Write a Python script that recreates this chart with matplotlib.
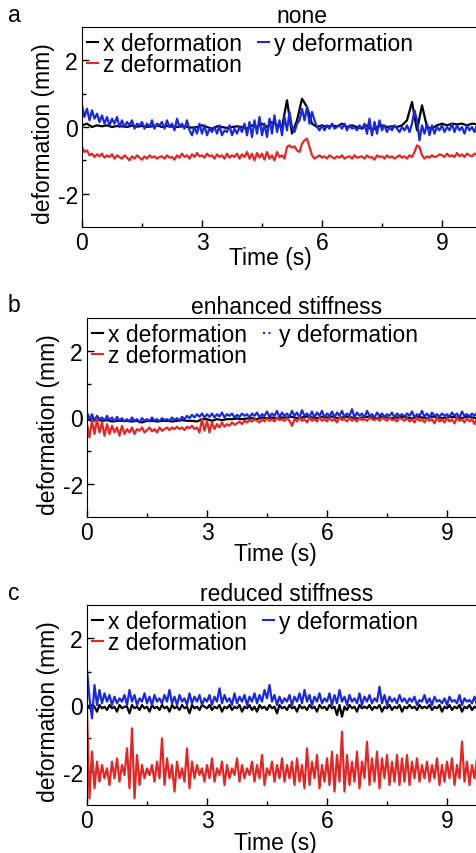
import numpy as np
import matplotlib
matplotlib.use("Agg")
import matplotlib.pyplot as plt
from matplotlib.lines import Line2D

plt.rcParams["font.family"] = ["Liberation Sans", "DejaVu Sans"]
plt.rcParams["axes.unicode_minus"] = False

# every trace covers 0-10 s, evenly sampled

# panel a - none
a_x = [0.05, 0.1, 0.0, 0.05, 0.02, 0.05, 0.0, 0.03,
       0.02, 0.0, 0.04, 0.01, 0.03, 0.0, 0.02, 0.05,
       0.0, 0.03, 0.01, 0.0, 0.02, 0.0, -0.02, 0.0,
       0.05, 0.0, -0.05, 0.02, 0.0, -0.03, 0.0, 0.02,
       0.0, -0.05, 0.05, 0.0, 0.1, 0.0, 0.15, 0.05,
       0.0, 0.8, -0.2, 0.2, 0.85, 0.6, 0.1, 0.0,
       0.05, 0.0, 0.05, 0.02, 0.1, 0.0, 0.05, 0.0,
       -0.05, 0.05, -0.1, 0.0, 0.05, 0.0, 0.02, 0.0,
       0.05, 0.2, 0.75, -0.1, 0.65, 0.0, -0.05, 0.05,
       0.1, 0.05, 0.1, 0.08, 0.1, 0.05, 0.1, 0.08]
a_y = [0.65, 0.3, 0.55, 0.2, 0.5, 0.25, 0.4, 0.15, 0.35, 0.1, 0.3, 0.05, 0.25, 0.1, 0.3, 0.0,
       0.2, 0.0, 0.15, 0.05, 0.2, -0.05, 0.1, 0.05, 0.15, -0.05, 0.1, 0.0, 0.2, -0.05, 0.1, 0.05,
       0.15, -0.05, 0.2, 0.0, 0.1, -0.1, 0.25, 0.0, 0.1, -0.05, 0.2, -0.1, -0.25, 0.0, -0.2, 0.1,
       -0.2, 0.05, -0.25, -0.05, -0.15, 0.0, -0.2, 0.05, -0.25, -0.1, -0.15, 0.05, -0.25, -0.05, -0.2, 0.0,
       -0.15, 0.1, -0.25, 0.15, -0.3, 0.2, -0.2, 0.3, -0.25, 0.1, -0.3, 0.25, -0.2, 0.35, -0.15, 0.2,
       -0.25, 0.3, -0.1, 0.45, 0.0, -0.15, 0.1, 0.2, 0.55, 0.2, 0.6, 0.1, 0.45, 0.2, 0.0, -0.1,
       0.05, -0.1, 0.05, -0.05, 0.1, -0.05, 0.0, 0.05, -0.05, 0.1, -0.1, 0.05, -0.05, 0.0, -0.1, 0.05,
       -0.05, 0.1, -0.2, 0.25, -0.25, 0.15, -0.2, 0.2, -0.1, 0.05, -0.15, 0.0, -0.1, 0.05, -0.05, -0.15,
       0.0, -0.1, 0.05, -0.15, 0.1, 0.5, 0.2, -0.4, 0.05, -0.2, 0.1, -0.25, 0.05, -0.2, 0.0, -0.1,
       0.05, -0.15, 0.0, -0.1, 0.1, -0.15, 0.05, -0.1, 0.0, -0.2, 0.05, -0.1, 0.0, -0.15, 0.05, -0.1]
a_z = [-0.6, -0.75, -0.7, -0.85, -0.8, -0.9, -0.82, -0.88, -0.8, -0.92, -0.85, -0.9, -0.82, -0.95, -0.85, -0.9,
       -0.95, -0.85, -0.92, -1.0, -0.88, -0.95, -0.85, -0.92, -0.98, -0.88, -0.95, -0.85, -0.92, -0.88, -0.95, -0.9,
       -0.88, -0.95, -0.85, -0.92, -0.9, -0.98, -0.85, -0.92, -0.8, -0.9, -0.85, -0.95, -0.82, -0.9, -0.78, -0.88,
       -0.85, -0.92, -0.8, -0.88, -0.85, -0.95, -0.82, -0.9, -0.85, -0.95, -0.8, -0.92, -0.85, -0.9, -0.8, -0.95,
       -0.82, -0.9, -0.75, -0.95, -0.8, -1.0, -0.78, -0.92, -0.8, -0.98, -0.75, -0.95, -0.85, -1.0, -0.75, -0.9,
       -0.85, -0.95, -0.6, -0.55, -0.62, -0.58, -0.7, -0.75, -0.5, -0.4, -0.35, -0.6, -0.85, -0.95, -0.9, -0.85,
       -0.92, -0.88, -0.95, -0.85, -0.9, -0.95, -0.88, -0.92, -0.85, -0.95, -0.9, -0.88, -0.95, -0.85, -0.92, -0.9,
       -0.88, -0.95, -0.85, -0.92, -0.9, -0.98, -0.85, -0.9, -0.88, -0.95, -0.85, -0.92, -0.88, -0.95, -0.9, -0.85,
       -0.92, -0.88, -0.95, -0.85, -0.9, -0.75, -0.55, -0.6, -0.85, -0.95, -0.88, -0.92, -0.85, -0.9, -0.88, -0.82,
       -0.85, -0.9, -0.8, -0.88, -0.85, -0.9, -0.78, -0.88, -0.82, -0.9, -0.8, -0.85, -0.88, -0.8, -0.85, -0.82]

# panel b - enhanced stiffness
b_x = [-0.05, -0.1, -0.05, -0.1, -0.08, -0.12, -0.1, -0.1,
       -0.1, -0.12, -0.1, -0.15, -0.1, -0.1, -0.12, -0.1,
       -0.1, -0.12, -0.1, -0.08, -0.1, -0.1, -0.12, -0.05,
       -0.05, -0.1, -0.05, -0.08, -0.05, -0.05, -0.03, -0.05,
       -0.03, -0.02, -0.05, 0.0, -0.02, 0.0, -0.03, 0.0,
       0.0, 0.02, -0.02, 0.0, 0.03, 0.0, -0.02, 0.02,
       0.0, 0.03, -0.02, 0.0, 0.02, 0.0, -0.03, 0.0,
       0.02, 0.0, -0.02, 0.03, 0.0, -0.02, 0.0, 0.02,
       0.0, -0.03, 0.02, 0.0, -0.02, 0.03, 0.0, -0.02,
       0.0, 0.02, 0.0, -0.02, 0.03, 0.0, -0.02, 0.0]
b_y = [0.15, -0.05, 0.1, -0.1, 0.05, -0.05, 0.0, -0.1, 0.05, -0.08, 0.0, -0.12, 0.02, -0.1, -0.02, -0.12,
       -0.05, -0.12, 0.0, -0.1, -0.05, -0.15, -0.02, -0.1, -0.05, -0.12, 0.0, -0.1, -0.05, -0.12, -0.02, -0.08,
       -0.05, -0.1, 0.0, -0.08, -0.02, -0.1, 0.02, -0.05, 0.05, -0.02, 0.08, 0.0, 0.1, 0.02, 0.12, 0.0,
       0.1, 0.02, 0.12, 0.0, 0.1, 0.03, 0.15, 0.0, 0.1, 0.05, 0.12, 0.0, 0.08, 0.02, 0.12, 0.05,
       0.1, 0.0, 0.12, 0.05, 0.15, 0.0, 0.1, 0.05, 0.18, 0.02, 0.12, 0.05, 0.2, 0.0, 0.15, 0.05,
       0.12, 0.02, 0.2, 0.05, 0.15, 0.0, 0.22, 0.05, 0.12, 0.02, 0.18, 0.0, 0.15, 0.05, 0.2, 0.0,
       0.12, 0.05, 0.18, 0.0, 0.15, 0.05, 0.2, 0.02, 0.12, 0.05, 0.25, 0.0, 0.15, 0.05, 0.12, 0.0,
       0.2, 0.05, 0.1, 0.0, 0.15, 0.05, 0.12, 0.02, 0.1, 0.05, 0.15, 0.0, 0.12, 0.05, 0.1, 0.02,
       0.12, 0.05, 0.18, 0.0, 0.1, 0.05, 0.2, 0.02, 0.12, 0.0, 0.15, 0.05, 0.1, 0.02, 0.12, 0.05,
       0.1, 0.02, 0.15, 0.05, 0.12, 0.0, 0.18, 0.05, 0.1, 0.02, 0.12, 0.05, 0.15, 0.0, 0.1, 0.05]
b_z = [-0.2, -0.6, -0.1, -0.5, -0.05, -0.45, -0.15, -0.55, -0.2, -0.5, -0.25, -0.45, -0.3, -0.55, -0.25, -0.5,
       -0.35, -0.45, -0.3, -0.5, -0.35, -0.4, -0.3, -0.45, -0.38, -0.3, -0.42, -0.35, -0.45, -0.3, -0.4, -0.35,
       -0.3, -0.38, -0.3, -0.35, -0.28, -0.35, -0.3, -0.38, -0.28, -0.32, -0.25, -0.35, -0.3, -0.45, -0.05, -0.4,
       -0.1, -0.45, -0.15, -0.35, -0.2, -0.3, -0.15, -0.28, -0.2, -0.25, -0.15, -0.22, -0.18, -0.12, -0.2, -0.1,
       -0.15, -0.08, -0.12, -0.05, -0.1, -0.15, -0.05, -0.12, -0.02, -0.1, -0.05, -0.12, 0.0, -0.08, -0.05, -0.1,
       -0.02, -0.1, -0.25, -0.05, -0.12, 0.0, -0.1, -0.05, -0.15, 0.0, -0.1, -0.05, -0.12, 0.02, -0.1, -0.05,
       -0.12, 0.0, -0.1, -0.05, -0.15, 0.02, -0.08, -0.05, -0.12, 0.0, -0.1, -0.05, -0.12, 0.0, -0.08, -0.05,
       -0.1, 0.0, -0.05, -0.08, -0.02, -0.1, 0.0, -0.05, -0.1, 0.0, -0.08, -0.05, -0.12, 0.0, -0.05, -0.1,
       -0.02, -0.12, -0.05, -0.15, 0.0, -0.1, -0.05, -0.15, -0.02, -0.1, -0.05, -0.18, 0.0, -0.12, -0.05, -0.15,
       -0.02, -0.12, -0.05, -0.18, 0.0, -0.1, -0.05, -0.15, -0.02, -0.12, -0.05, -0.2, 0.0, -0.1, -0.05, -0.15]

# panel c - reduced stiffness
c_x = [0.0, -0.1, 0.0, -0.05, -0.2, 0.0, -0.1, -0.05, -0.15, 0.0, -0.1, -0.05, -0.2, 0.0, -0.1, -0.05,
       -0.05, -0.25, 0.0, -0.1, -0.05, -0.15, 0.0, -0.1, -0.05, -0.2, 0.0, -0.1, -0.05, -0.15, 0.0, -0.1,
       -0.05, -0.2, 0.0, -0.1, -0.05, -0.15, 0.0, -0.1, -0.05, -0.25, 0.0, -0.1, -0.05, -0.15, 0.0, -0.05,
       -0.1, 0.0, -0.15, -0.05, -0.1, 0.0, -0.2, -0.05, -0.1, 0.0, -0.15, -0.05, -0.1, 0.0, -0.2, -0.05,
       -0.1, 0.0, -0.15, -0.05, -0.2, 0.0, -0.1, -0.05, -0.15, 0.0, -0.1, -0.05, -0.25, 0.0, -0.1, -0.05,
       -0.15, 0.0, -0.1, -0.05, -0.2, 0.0, -0.1, -0.05, -0.15, 0.0, -0.1, -0.05, -0.2, 0.0, -0.1, -0.05,
       -0.15, 0.0, -0.1, -0.05, -0.3, 0.0, -0.35, -0.05, -0.15, 0.0, -0.1, -0.05, -0.2, 0.0, -0.1, -0.05,
       -0.1, 0.0, -0.15, -0.05, -0.1, 0.0, -0.2, -0.05, -0.1, 0.0, -0.15, -0.05, -0.1, 0.0, -0.2, -0.05,
       -0.1, 0.0, -0.1, -0.05, -0.15, 0.0, -0.1, -0.05, -0.1, 0.0, -0.15, -0.05, -0.1, 0.0, -0.2, -0.05,
       -0.1, 0.0, -0.15, -0.05, -0.1, 0.0, -0.2, -0.05, -0.1, 0.0, -0.15, -0.05, -0.1, 0.0, -0.25, -0.05]
c_y = [1.05, 0.2, -0.4, 0.6, 0.0, 0.45, 0.05, 0.35, 0.1, 0.3, 0.0, 0.25, 0.05, 0.2, 0.1, 0.3,
       0.0, 0.45, 0.1, 0.3, 0.0, 0.2, 0.1, 0.35, 0.05, 0.25, 0.0, 0.3, 0.1, 0.2, 0.05, 0.3,
       0.1, 0.45, 0.05, 0.25, 0.0, 0.3, 0.1, 0.2, 0.0, 0.35, 0.05, 0.25, 0.1, 0.3, 0.0, 0.2,
       0.1, 0.3, 0.0, 0.25, 0.1, 0.5, 0.05, 0.3, 0.1, 0.2, 0.0, 0.35, 0.05, 0.25, 0.1, 0.3,
       0.0, 0.25, 0.1, 0.35, 0.05, 0.3, 0.1, 0.45, 0.2, 0.6, 0.1, 0.3, 0.0, 0.25, 0.05, 0.2,
       0.1, 0.3, 0.0, 0.25, 0.1, 0.35, 0.05, 0.45, 0.1, 0.3, 0.0, 0.25, 0.1, 0.35, 0.05, 0.2,
       0.1, 0.35, 0.0, 0.3, 0.05, 0.45, 0.1, 0.25, 0.0, 0.3, 0.1, 0.2, 0.05, 0.35, 0.0, 0.25,
       0.1, 0.3, 0.05, 0.2, 0.1, 0.55, 0.05, 0.3, 0.0, 0.25, 0.1, 0.2, 0.05, 0.3, 0.1, 0.2,
       0.05, 0.2, 0.1, 0.25, 0.0, 0.15, 0.1, 0.3, 0.05, 0.2, 0.0, 0.25, 0.1, 0.15, 0.05, 0.2,
       0.0, 0.25, 0.1, 0.15, 0.05, 0.3, 0.0, 0.2, 0.1, 0.15, 0.05, 0.25, 0.0, 0.2, 0.1, 0.15]
c_z = [-0.2, -2.8, -1.4, -2.5, -1.7, -2.3, -1.8, -2.2, -1.9, -2.4, -1.7, -2.2, -1.6, -2.3, -1.8, -2.1,
       -1.3, -2.5, -0.7, -2.8, -1.5, -2.4, -1.8, -2.2, -1.9, -2.1, -1.8, -2.3, -1.7, -2.2, -1.0, -2.4,
       -1.6, -2.2, -1.8, -2.6, -1.7, -2.2, -1.9, -2.3, -1.3, -2.5, -1.7, -2.2, -1.8, -2.1, -1.9, -2.3,
       -1.8, -2.2, -1.6, -2.3, -1.9, -2.1, -1.7, -2.4, -1.8, -2.2, -1.9, -2.1, -1.6, -2.3, -1.8, -2.2,
       -1.9, -2.1, -1.7, -2.3, -1.8, -2.2, -1.5, -2.4, -1.9, -2.1, -1.7, -2.3, -1.8, -2.2, -1.6, -2.3,
       -1.8, -2.2, -1.7, -2.4, -1.6, -2.3, -1.8, -2.5, -1.3, -2.4, -1.7, -2.2, -1.5, -2.5, -1.8, -2.3,
       -1.6, -2.4, -1.4, -2.6, -1.5, -2.3, -0.8, -2.6, -1.5, -2.4, -1.7, -2.3, -1.4, -2.5, -1.7, -2.2,
       -1.1, -2.4, -1.6, -2.3, -1.4, -2.5, -1.6, -2.2, -1.5, -2.4, -1.7, -2.3, -1.5, -2.4, -1.6, -2.3,
       -1.5, -2.4, -1.7, -2.2, -1.6, -2.3, -1.8, -2.2, -1.7, -2.3, -1.8, -2.2, -1.6, -2.4, -1.8, -2.3,
       -1.7, -2.2, -1.6, -2.4, -1.8, -2.2, -1.1, -2.3, -1.7, -2.4, -1.8, -2.2, -1.6, -2.3, -1.4, -2.4]

titles = ["none", "enhanced stiffness", "reduced stiffness"]
letters = ["a", "b", "c"]
panels = [(a_x, a_y, a_z), (b_x, b_y, b_z), (c_x, c_y, c_z)]

W, H = 477, 854
# axes boxes in pixels: left, top, bottom
boxes = [(82, 28, 228), (87, 319, 518), (87, 606, 806)]
title_x = [0.55, 0.5, 0.5]
xlabel_y = [-0.095, -0.125, -0.13]

black = "#000000"
blue = "#1a2ad8"
red = "#e02828"
fs = 16.5
lw = 1.6


def times(v):
    return np.arange(len(v)) * 10.0 / len(v)


fig = plt.figure(figsize=(W / 100, H / 100), dpi=100)

for i in range(3):
    left, top, bottom = boxes[i]
    ax = fig.add_axes([left / W, (H - bottom) / H, 400 / W, (bottom - top) / H])
    xs, ys, zs = panels[i]
    ax.plot(times(xs), xs, color=black, lw=lw)
    if i == 1:
        ax.plot(times(ys), ys, color=blue, lw=lw)
        ax.plot(times(zs), zs, color=red, lw=lw)
    else:
        ax.plot(times(zs), zs, color=red, lw=lw)
        ax.plot(times(ys), ys, color=blue, lw=lw)

    ax.set_xlim(0, 10)
    ax.set_ylim(-3, 3)
    ax.set_xticks([0, 3, 6, 9])
    ax.set_xticks([1.5, 4.5, 7.5], minor=True)
    ax.set_yticks([-2, 0, 2])
    ax.set_yticks([-1, 1], minor=True)
    ax.tick_params(direction="in", labelsize=fs, length=5, width=1, pad=3)
    ax.tick_params(which="minor", direction="in", length=3, width=1)
    ax.spines["right"].set_visible(False)

    ax.set_title(titles[i], fontsize=fs, x=title_x[i], pad=3)
    ax.set_xlabel("Time (s)", fontsize=fs)
    ax.xaxis.set_label_coords(0.47, xlabel_y[i])
    ax.set_ylabel("deformation (mm)", fontsize=fs)
    ax.yaxis.set_label_coords(-0.068, 0.47)

    ls_y = ":" if i == 1 else "-"
    handles = [Line2D([], [], color=black, lw=1.5),
               Line2D([], [], color=red, lw=1.5),
               Line2D([], [], color=blue, lw=1.5, ls=ls_y)]
    labels = ["x deformation", "z deformation", "y deformation"]
    ax.legend(handles, labels, ncol=2, loc="upper left", frameon=False,
              fontsize=fs, handlelength=0.5, handletextpad=0.2,
              columnspacing=0.7, labelspacing=-0.08, borderaxespad=0.1,
              borderpad=0.1)

    fig.text(8 / W, 1 - (boxes[i][1] - 13) / H, letters[i], fontsize=fs,
             va="center", ha="left")

fig.savefig("out.png", dpi=100)
